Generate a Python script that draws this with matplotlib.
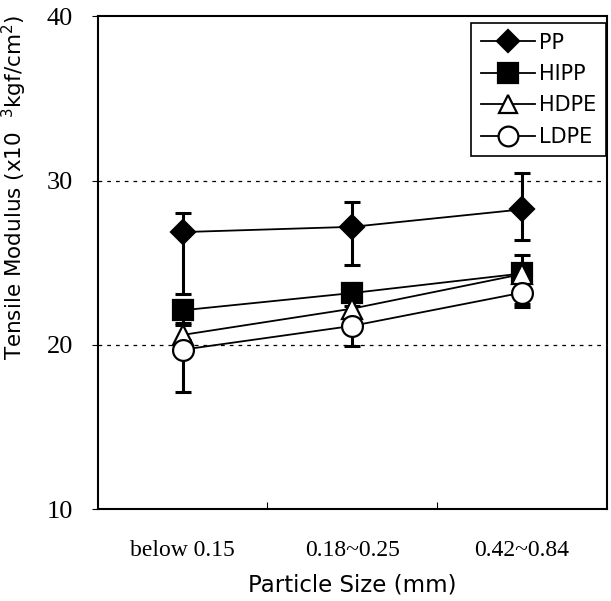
import numpy as np
import matplotlib
matplotlib.use('Agg')
import matplotlib.pyplot as plt

sizes = ['below 0.15', '0.18~0.25', '0.42~0.84']
names = ['PP', 'HIPP', 'HDPE', 'LDPE']
pp = [26.86, 27.18, 28.24]
hipp = [22.1, 23.15, 24.34]
hdpe = [20.6, 22.2, 24.3]
ldpe = [19.7, 21.15, 23.17]
# lower / upper error lengths
pp_err = [[3.76, 2.33, 1.87], [1.14, 1.52, 2.23]]
hipp_err = [[0.8, 0.8, 0.9], [0.6, 0.6, 1.12]]
hdpe_err = [[0.6, 0.6, 1.8], [0.6, 0.6, 0.6]]
ldpe_err = [[2.6, 1.2, 0.86], [0.6, 0.6, 0.6]]

values = [pp, hipp, hdpe, ldpe]
errors = [pp_err, hipp_err, hdpe_err, ldpe_err]
markers = ['D', 's', '^', 'o']
faces = ['black', 'black', 'white', 'white']
msizes = [12, 15, 14, 15]

fig = plt.figure(figsize=(6.11, 6.01), dpi=100)
ax = fig.add_axes([0.160, 0.153, 0.833, 0.820])

x = np.arange(len(sizes)) + 0.5
for v, e in zip(values, errors):
    ax.errorbar(x, v, yerr=np.array(e), fmt='none', ecolor='black',
                elinewidth=2.2, capsize=6, capthick=2.2, zorder=2)
for v, m, fc, ms, nm in zip(values, markers, faces, msizes, names):
    ax.plot(x, v, color='black', lw=1.3, marker=m, ms=ms, mfc=fc, mec='black',
            mew=1.6, label=nm, zorder=3)

ax.set_xlim(0, 3)
ax.set_ylim(10, 40)
ax.set_xticks([1, 2])
ax.set_xticklabels([])
ax.set_xticks(x, minor=True)
ax.set_xticklabels(sizes, minor=True, fontfamily='Liberation Serif', fontsize=17)
ax.tick_params(axis='x', which='major', direction='in', length=5, width=0.8)
ax.tick_params(axis='x', which='minor', length=0, pad=22)
ax.set_yticks([10, 20, 30, 40])
ax.set_yticklabels(['10', '20', '30', '40'], fontfamily='Liberation Serif', fontsize=19)
ax.tick_params(axis='y', direction='out', length=4, width=0.8, pad=14)
for yv in [20, 30]:
    ax.axhline(yv, color='black', lw=0.9, ls=(0, (3, 4)), zorder=1)
for s in ax.spines.values():
    s.set_linewidth(1.5)

ax.set_xlabel('Particle Size (mm)', fontsize=16.5)
ax.xaxis.set_label_coords(0.5, -0.13)
ax.set_ylabel('Tensile Modulus (x10  $^{3}$kgf/cm$^{2}$)', fontsize=15.5)
ax.yaxis.set_label_coords(-0.135, 0.653)

leg = ax.legend(loc='upper right', bbox_to_anchor=(0.998, 0.986), fontsize=15,
                frameon=True, fancybox=False, edgecolor='black', framealpha=1,
                handlelength=2.6, handletextpad=0.2, borderaxespad=0.0,
                labelspacing=0.55, borderpad=0.45, markerscale=0.95)
leg.get_frame().set_linewidth(1.2)

fig.savefig('out.png', dpi=100)
